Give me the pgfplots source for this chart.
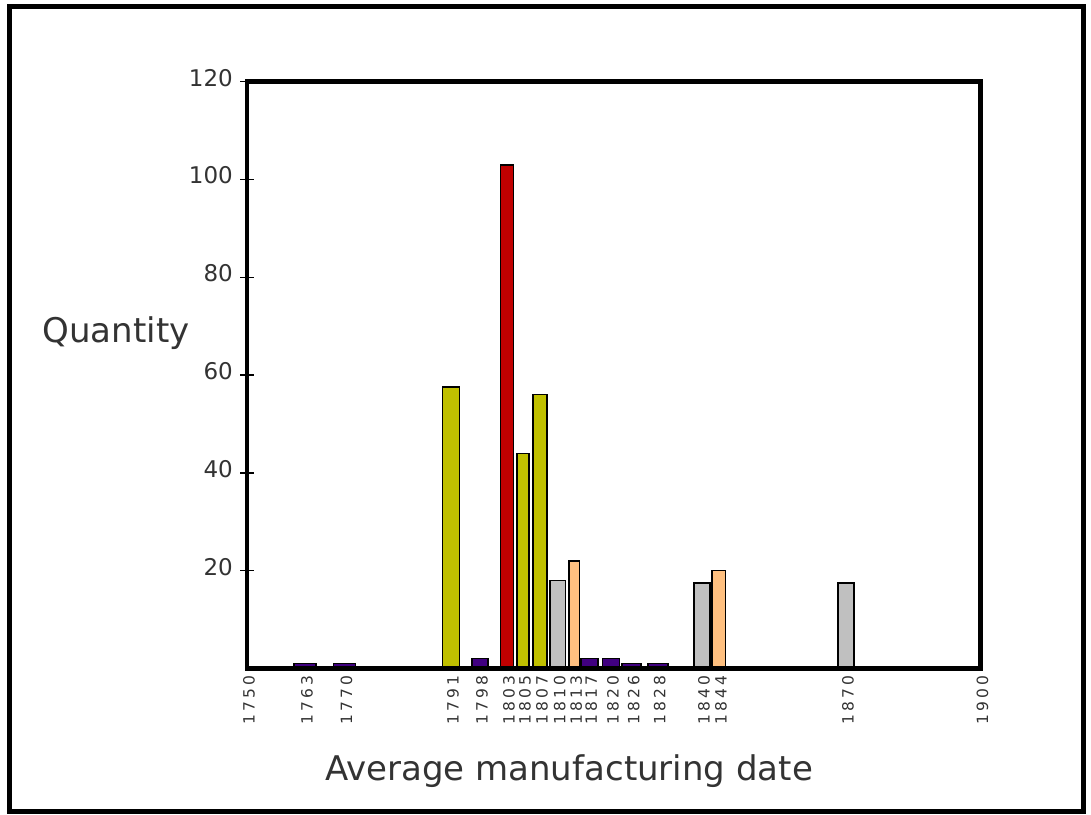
\documentclass[border=0pt]{standalone}
\usepackage{fontspec}
\setmainfont{DejaVu Sans}
\newfontfamily\ticksfont[LetterSpace=20]{DejaVu Sans}
\usepackage{pgfplots}
\pgfplotsset{compat=1.18}
\definecolor{olivey}{RGB}{192,192,0}
\definecolor{redb}{RGB}{192,0,0}
\definecolor{grayb}{RGB}{192,192,192}
\definecolor{peach}{RGB}{255,192,128}
\definecolor{purp}{RGB}{64,0,128}
\definecolor{txt}{RGB}{51,51,51}
\pgfplotsset{mybar/.style={ybar, bar shift=0pt, draw=black, line width=1.5pt}}
\begin{document}
\begin{tikzpicture}
\useasboundingbox (0pt,0pt) rectangle (1091pt,814pt);
\draw[line width=5pt] (9.8pt,807.3pt) rectangle (1083pt,2.5pt);
\begin{axis}[
  at={(247pt,145.5pt)}, anchor=south west,
  scale only axis, width=733.5pt, height=586.8pt,
  xmin=1750, xmax=1900, ymin=0, ymax=120,
  axis line style={line width=4.8pt},
  axis on top,
  ytick={20,40,60,80,100,120},
  xtick={1750,1761.86,1769.94,1791.72,1797.65,1803.17,1806.44,1809.92,1813.54,1816.91,1820.0,1824.42,1828.67,1834.0,1843.05,1846.5,1872.5,1900},
  xticklabels={1750,1763,1770,1791,1798,1803,1805,1807,1810,1813,1817,1820,1826,1828,1840,1844,1870,1900},
  x tick style={draw=none},
  y tick style={black, line width=1.5pt},
  tick align=center,
  major tick length=14pt,
  ytick pos=left,
  xtick pos=bottom,
  /pgf/number format/assume math mode=true,
  yticklabel style={font=\fontsize{23}{23}\selectfont, text=txt, anchor=east, inner sep=0pt, xshift=-7pt, yshift=4pt},
  xticklabel style={font=\ticksfont\fontsize{15.5}{15.5}\selectfont, text=txt, rotate=90, anchor=east, inner sep=0pt, yshift=-2pt},
  clip=false,
]
\addplot[mybar, fill=purp,   bar width=4.5]  coordinates {(1761.86,1)};
\addplot[mybar, fill=purp,   bar width=4.5]  coordinates {(1769.94,1)};
\addplot[mybar, fill=olivey, bar width=3.48] coordinates {(1791.72,57.6)};
\addplot[mybar, fill=purp,   bar width=3.2]  coordinates {(1797.65,2)};
\addplot[mybar, fill=redb,   bar width=2.66] coordinates {(1803.17,103)};
\addplot[mybar, fill=olivey, bar width=2.38] coordinates {(1806.44,44)};
\addplot[mybar, fill=olivey, bar width=2.79] coordinates {(1809.92,56)};
\addplot[mybar, fill=grayb,  bar width=3.21] coordinates {(1813.54,18)};
\addplot[mybar, fill=peach,  bar width=2.19] coordinates {(1816.91,22)};
\addplot[mybar, fill=purp,   bar width=3.48] coordinates {(1820.0,2)};
\addplot[mybar, fill=purp,   bar width=3.54] coordinates {(1824.42,2)};
\addplot[mybar, fill=purp,   bar width=3.89] coordinates {(1828.67,1)};
\addplot[mybar, fill=purp,   bar width=4.09] coordinates {(1834.0,1)};
\addplot[mybar, fill=grayb,  bar width=3.36] coordinates {(1843.05,17.5)};
\addplot[mybar, fill=peach,  bar width=2.72] coordinates {(1846.5,20)};
\addplot[mybar, fill=grayb,  bar width=3.19] coordinates {(1872.5,17.5)};
\node[font=\fontsize{34}{34}\selectfont, text=txt, anchor=center] at (rel axis cs:-0.1786,0.5717) {Quantity};
\node[font=\fontsize{34}{34}\selectfont, text=txt, anchor=center] at (rel axis cs:0.439,-0.1747) {Average manufacturing date};
\end{axis}
\end{tikzpicture}
\end{document}
